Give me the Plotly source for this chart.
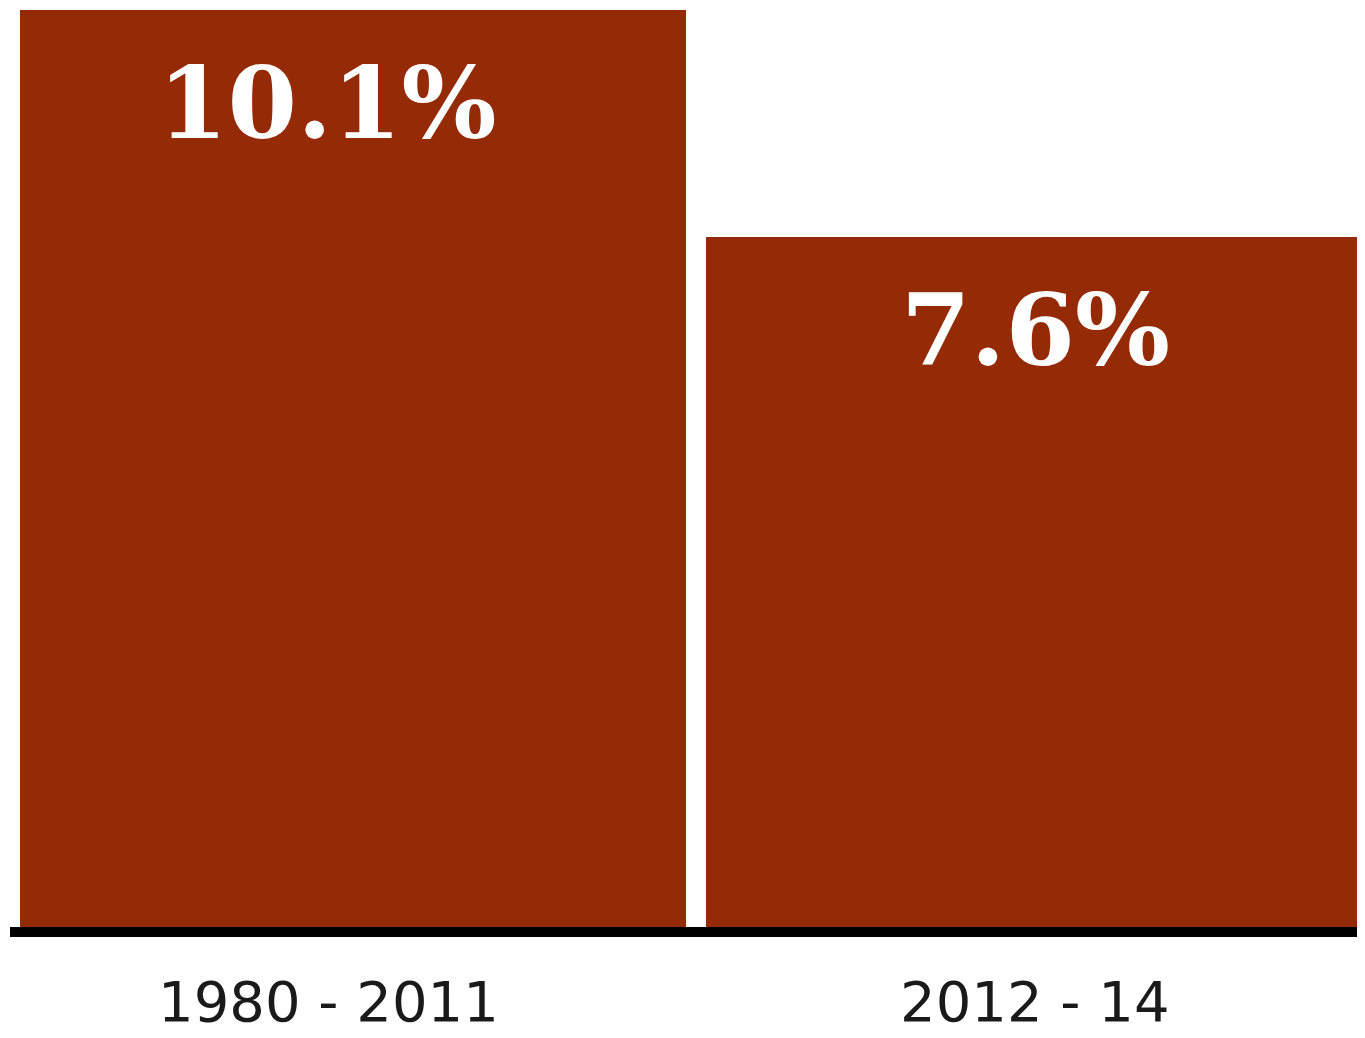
import plotly.graph_objects as go

categories = ["1980 - 2011", "2012 - 14"]
values = [10.1, 7.6]
value_labels = ["10.1%", "7.6%"]

BAR = "#952A06"
W, H = 1357, 1030  # page adds an 8px body margin
fig = go.Figure()
xs = list(range(len(categories)))
fig.add_trace(go.Bar(x=xs, y=values, width=0.971, marker=dict(color=BAR, line=dict(width=0)),
                     hoverinfo="skip"))

value_xshift = [-26, -4]
cat_xshift = [-25, -4]
for i, (v, lab) in enumerate(zip(values, value_labels)):
    fig.add_annotation(x=i, y=v, text="<b>%s</b>" % lab, showarrow=False,
                       yanchor="middle", yshift=-93, xshift=value_xshift[i],
                       font=dict(family="DejaVu Serif", size=100, color="white"))
    fig.add_annotation(x=i, y=0, text=categories[i], showarrow=False,
                       yanchor="middle", yshift=-73, xshift=cat_xshift[i],
                       font=dict(family="DejaVu Sans", size=56, color="#1a1a1a"))

fig.add_shape(type="line", xref="paper", yref="paper", x0=2 / W, x1=1.0,
              y0=-0.0043, y1=-0.0043, line=dict(color="black", width=10))

fig.update_layout(
    width=W, height=H,
    margin=dict(l=0, r=0, t=0, b=110),
    paper_bgcolor="white", plot_bgcolor="white",
    showlegend=False, bargap=0,
    xaxis=dict(range=[-0.5029, 1.4752], visible=False, fixedrange=True),
    yaxis=dict(range=[0, 10.12], visible=False, fixedrange=True),
)
fig.write_html("out.html")
